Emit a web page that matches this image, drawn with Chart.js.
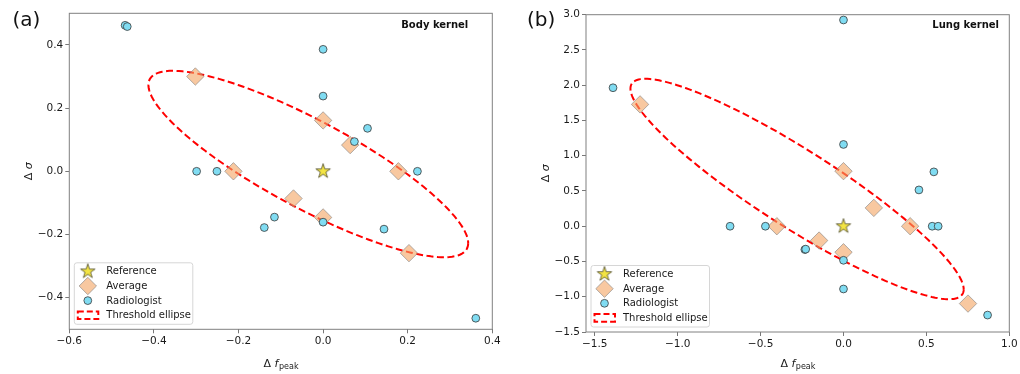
<!DOCTYPE html>
<html>
<head>
<meta charset="utf-8">
<script src="https://cdn.jsdelivr.net/npm/chart.js@4.4.1/dist/chart.umd.min.js"></script>
<style>
  html, body { margin: 0; padding: 0; background: #fff; }
  #wrap { position: relative; width: 1020px; height: 374px; }
  canvas { position: absolute; top: 0; }
</style>
</head>
<body>
<div id="wrap">
  <canvas id="chartA" width="510" height="374" style="left:0"></canvas>
  <canvas id="chartB" width="510" height="374" style="left:510px"></canvas>
</div>
<script>
// (a) Body kernel
const radAx = [-0.468, -0.463, 0.000, 0.000, 0.105, 0.074, -0.299, -0.251, 0.223, -0.139, -0.115, 0.000, 0.144, 0.361];
const radAy = [0.462, 0.458, 0.386, 0.238, 0.136, 0.094, 0.000, 0.000, 0.000, -0.178, -0.145, -0.161, -0.183, -0.465];
const avgAx = [-0.302, 0.000, 0.064, -0.212, 0.178, -0.070, 0.000, 0.203];
const avgAy = [0.300, 0.161, 0.083, 0.000, 0.000, -0.086, -0.146, -0.259];
const ellipseA = [-0.035, 0.023, 0.378, 0.295, 148]; // centre x, centre y, half x extent, half y extent, phase (deg)
const xTicksA = [-0.6, -0.4, -0.2, 0.0, 0.2, 0.4];
const yTicksA = [-0.4, -0.2, 0.0, 0.2, 0.4];

// (b) Lung kernel
const radBx = [0.000, -1.390, 0.000, 0.545, 0.455, -0.684, -0.471, 0.535, 0.571, -0.233, -0.228, 0.000, 0.000, 0.869];
const radBy = [2.925, 1.964, 1.160, 0.771, 0.515, 0.000, 0.000, 0.000, 0.000, -0.331, -0.325, -0.483, -0.890, -1.260];
const avgBx = [-1.227, 0.000, 0.183, -0.402, 0.402, -0.147, 0.000, 0.751];
const avgBy = [1.728, 0.781, 0.260, 0.000, 0.000, -0.203, -0.369, -1.097];
const ellipseB = [-0.280, 0.528, 1.005, 1.563, 155.6];
const xTicksB = [-1.5, -1.0, -0.5, 0.0, 0.5, 1.0];
const yTicksB = [-1.5, -1.0, -0.5, 0.0, 0.5, 1.0, 1.5, 2.0, 2.5, 3.0];

const refPoint = [0, 0];
const legendLabels = ['Reference', 'Average', 'Radiologist', 'Threshold ellipse'];

const FONT = "'DejaVu Sans', sans-serif";
const STAR_FILL = '#f3e443', STAR_EDGE = '#4d4a2a';
const AVG_FILL = 'rgba(244,164,96,0.6)', AVG_EDGE = 'rgba(128,128,128,0.6)';
const RAD_FILL = '#80dcf2', RAD_EDGE = '#3a3a3a';
const ELL_COLOR = '#ff0000';

function toPts(xs, ys) {
  return xs.map((x, i) => ({ x: x, y: ys[i] }));
}

function ellipseOutline(e) {
  const [cx, cy, hx, hy, ph] = e;
  const p = ph * Math.PI / 180;
  const pts = [];
  for (let i = 0; i <= 180; i++) {
    const t = i / 180 * 2 * Math.PI;
    pts.push({ x: cx + hx * Math.cos(t), y: cy + hy * Math.cos(t + p) });
  }
  return pts;
}

function makeStar(R) {
  const c = document.createElement('canvas');
  const s = Math.ceil(R * 2 + 4);
  c.width = s; c.height = s;
  const g = c.getContext('2d');
  g.beginPath();
  for (let k = 0; k < 10; k++) {
    const r = k % 2 ? R * 0.382 : R;
    const a = -Math.PI / 2 + k * Math.PI / 5;
    g.lineTo(s / 2 + r * Math.cos(a), s / 2 + r * Math.sin(a));
  }
  g.closePath();
  g.fillStyle = STAR_FILL; g.fill();
  g.strokeStyle = STAR_EDGE; g.lineWidth = 0.8; g.stroke();
  return c;
}
const starImg = makeStar(7.6);

function fmt(v) {
  return (v < 0 ? '\u2212' : '') + Math.abs(v).toFixed(1);
}

// frame, axis titles, panel label, kernel label and legend
const decor = {
  id: 'decor',
  afterDraw(chart, args, o) {
    const ctx = chart.ctx, a = chart.chartArea;
    ctx.save();
    ctx.strokeStyle = '#808080';
    ctx.lineWidth = 1;
    ctx.strokeRect(a.left, a.top, a.right - a.left, a.bottom - a.top);

    // x title: Δ f_peak
    ctx.fillStyle = '#1a1a1a';
    ctx.textBaseline = 'alphabetic';
    ctx.textAlign = 'left';
    const f1 = '11px ' + FONT, f2 = 'italic 11px ' + FONT, f3 = '8px ' + FONT;
    ctx.font = f1; const w1 = ctx.measureText('\u0394 ').width;
    ctx.font = f2; const w2 = ctx.measureText('f').width;
    ctx.font = f3; const w3 = ctx.measureText('peak').width;
    let x0 = (a.left + a.right) / 2 - (w1 + w2 + w3) / 2;
    const by = 366.5;
    ctx.font = f1; ctx.fillText('\u0394 ', x0, by);
    ctx.font = f2; ctx.fillText('f', x0 + w1, by);
    ctx.font = f3; ctx.fillText('peak', x0 + w1 + w2 + 0.5, by + 2.5);

    // y title: Δ σ
    ctx.save();
    ctx.translate(a.left - 40, (a.top + a.bottom) / 2);
    ctx.rotate(-Math.PI / 2);
    ctx.textBaseline = 'middle';
    ctx.font = f1; const v1 = ctx.measureText('\u0394 ').width;
    ctx.font = f2; const v2 = ctx.measureText('\u03c3').width;
    ctx.font = f1; ctx.fillText('\u0394 ', -(v1 + v2) / 2, 0);
    ctx.font = f2; ctx.fillText('\u03c3', -(v1 + v2) / 2 + v1, 0);
    ctx.restore();

    // panel label
    ctx.fillStyle = '#111';
    ctx.font = '20px ' + FONT;
    ctx.textBaseline = 'middle';
    ctx.fillText(o.panel, o.panelX, 20.5);

    // kernel label
    ctx.font = 'bold 10px ' + FONT;
    ctx.textAlign = 'right';
    ctx.fillText(o.kernel, o.kernelX, o.kernelY);

    // legend
    const bx = a.left + 5, bw = 118.5, bh = 61.5, byTop = a.bottom - 5 - bh;
    ctx.beginPath();
    ctx.roundRect(bx, byTop, bw, bh, 2.5);
    ctx.fillStyle = 'rgba(255,255,255,0.8)';
    ctx.fill();
    ctx.strokeStyle = '#d6d6d6';
    ctx.lineWidth = 1;
    ctx.stroke();

    const mx = bx + 13.5, tx = bx + 32;
    legendLabels.forEach((lab, i) => {
      const y = byTop + 8.6 + i * 14.6;
      if (i === 0) {
        ctx.drawImage(starImg, mx - starImg.width / 2, y - starImg.height / 2);
      } else if (i === 1) {
        ctx.beginPath();
        ctx.moveTo(mx, y - 8.7); ctx.lineTo(mx + 8.7, y);
        ctx.lineTo(mx, y + 8.7); ctx.lineTo(mx - 8.7, y);
        ctx.closePath();
        ctx.fillStyle = AVG_FILL; ctx.fill();
        ctx.strokeStyle = AVG_EDGE; ctx.lineWidth = 1; ctx.stroke();
      } else if (i === 2) {
        ctx.beginPath();
        ctx.arc(mx, y, 3.9, 0, Math.PI * 2);
        ctx.fillStyle = RAD_FILL; ctx.fill();
        ctx.strokeStyle = RAD_EDGE; ctx.lineWidth = 0.8; ctx.stroke();
      } else {
        ctx.save();
        ctx.setLineDash([6, 3]);
        ctx.strokeStyle = ELL_COLOR; ctx.lineWidth = 2;
        ctx.strokeRect(mx - 10, y - 3.8, 20.5, 7.6);
        ctx.restore();
      }
      ctx.fillStyle = '#1a1a1a';
      ctx.font = '10px ' + FONT;
      ctx.textAlign = 'left';
      ctx.textBaseline = 'middle';
      ctx.fillText(lab, tx, y + 0.5);
    });
    ctx.restore();
  }
};

function axis(min, max, ticks, fitKey, fitVal) {
  return {
    type: 'linear',
    min: min,
    max: max,
    afterBuildTicks: s => { s.ticks = ticks.map(v => ({ value: v })); },
    afterFit: s => { s[fitKey] = fitVal; },
    ticks: {
      color: '#1a1a1a',
      padding: 2,
      font: { family: FONT, size: 10.5 },
      callback: v => fmt(v)
    },
    grid: { drawOnChartArea: false, drawTicks: true, tickLength: 4, color: '#555', lineWidth: 0.8 },
    border: { display: false }
  };
}

function makeChart(id, p) {
  return new Chart(document.getElementById(id), {
    type: 'scatter',
    data: {
      datasets: [
        { label: 'Reference', data: [{ x: refPoint[0], y: refPoint[1] }], pointStyle: starImg, pointRadius: 8 },
        { label: 'Radiologist', data: toPts(p.radX, p.radY), pointStyle: 'circle', pointRadius: 3.9,
          backgroundColor: RAD_FILL, borderColor: RAD_EDGE, borderWidth: 0.8 },
        { label: 'Average', data: toPts(p.avgX, p.avgY), pointStyle: 'rectRot', pointRadius: 8.7,
          backgroundColor: AVG_FILL, borderColor: AVG_EDGE, borderWidth: 1 },
        { label: 'Threshold ellipse', data: ellipseOutline(p.ellipse), showLine: true, pointRadius: 0,
          borderColor: ELL_COLOR, borderWidth: 2, borderDash: [7, 3.5], fill: false, tension: 0 }
      ]
    },
    options: {
      responsive: false,
      animation: false,
      events: [],
      layout: { padding: { left: 0, top: p.top, right: p.right, bottom: 0 } },
      scales: {
        x: axis(p.xMin, p.xMax, p.xTicks, 'height', p.xH),
        y: axis(p.yMin, p.yMax, p.yTicks, 'width', p.yW)
      },
      plugins: {
        legend: { display: false },
        tooltip: { enabled: false },
        decor: { panel: p.panel, panelX: p.panelX, kernel: p.kernel, kernelX: p.kernelX, kernelY: p.kernelY }
      }
    },
    plugins: [decor]
  });
}

makeChart('chartA', {
  radX: radAx, radY: radAy, avgX: avgAx, avgY: avgAy, ellipse: ellipseA,
  xMin: -0.6, xMax: 0.4, yMin: -0.5, yMax: 0.5, xTicks: xTicksA, yTicks: yTicksA,
  top: 13.3, right: 17.7, xH: 44.7, yW: 69.3,
  panel: '(a)', panelX: 12.5, kernel: 'Body kernel', kernelX: 468.3, kernelY: 25.7
});

makeChart('chartB', {
  radX: radBx, radY: radBy, avgX: avgBx, avgY: avgBy, ellipse: ellipseB,
  xMin: -1.553, xMax: 1.0, yMin: -1.5, yMax: 3.0, xTicks: xTicksB, yTicks: yTicksB,
  top: 14.7, right: 10.7, xH: 42, yW: 76,
  panel: '(b)', panelX: 17, kernel: 'Lung kernel', kernelX: 489, kernelY: 25
});
</script>
</body>
</html>
